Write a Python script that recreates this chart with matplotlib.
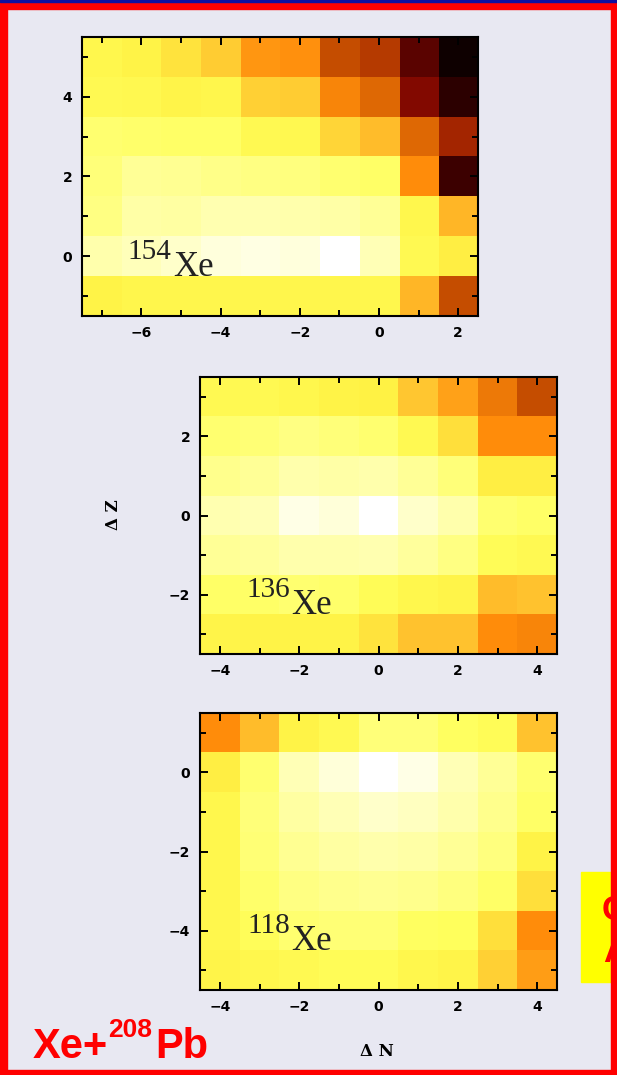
import numpy as np
import matplotlib.pyplot as plt
from matplotlib.colors import LinearSegmentedColormap
from matplotlib.patches import Rectangle
from matplotlib.ticker import MultipleLocator

# relative isotope yields on the (dN, dZ) grid, rows listed from top dZ down
dn_154 = [-7, -6, -5, -4, -3, -2, -1, 0, 1, 2]
dz_154 = [5, 4, 3, 2, 1, 0, -1]
yield_154 = [
    [0.64, 0.61, 0.57, 0.52, 0.42, 0.41, 0.30, 0.27, 0.14, 0.01],
    [0.66, 0.65, 0.62, 0.63, 0.53, 0.52, 0.39, 0.34, 0.19, 0.07],
    [0.74, 0.73, 0.72, 0.72, 0.66, 0.65, 0.54, 0.49, 0.34, 0.24],
    [0.76, 0.82, 0.81, 0.79, 0.78, 0.77, 0.74, 0.72, 0.40, 0.10],
    [0.78, 0.85, 0.84, 0.87, 0.87, 0.86, 0.85, 0.82, 0.64, 0.48],
    [0.86, 0.89, 0.915, 0.945, 0.955, 0.945, 1.00, 0.88, 0.66, 0.59],
    [0.61, 0.63, 0.63, 0.63, 0.63, 0.63, 0.63, 0.64, 0.48, 0.30],
]

dn_136 = [-4, -3, -2, -1, 0, 1, 2, 3, 4]
dz_136 = [3, 2, 1, 0, -1, -2, -3]
yield_136 = [
    [0.66, 0.66, 0.64, 0.61, 0.60, 0.51, 0.44, 0.37, 0.30],
    [0.74, 0.75, 0.78, 0.76, 0.74, 0.66, 0.56, 0.40, 0.40],
    [0.80, 0.82, 0.86, 0.85, 0.86, 0.82, 0.76, 0.59, 0.59],
    [0.87, 0.88, 0.96, 0.94, 1.00, 0.915, 0.86, 0.74, 0.72],
    [0.82, 0.83, 0.86, 0.86, 0.87, 0.83, 0.78, 0.68, 0.66],
    [0.72, 0.72, 0.74, 0.73, 0.68, 0.64, 0.62, 0.49, 0.50],
    [0.62, 0.61, 0.61, 0.61, 0.57, 0.50, 0.50, 0.40, 0.39],
]

dn_118 = [-4, -3, -2, -1, 0, 1, 2, 3, 4]
dz_118 = [1, 0, -1, -2, -3, -4, -5]
yield_118 = [
    [0.40, 0.49, 0.61, 0.66, 0.76, 0.76, 0.71, 0.68, 0.50],
    [0.59, 0.74, 0.88, 0.94, 1.00, 0.96, 0.88, 0.82, 0.74],
    [0.64, 0.76, 0.84, 0.88, 0.915, 0.90, 0.86, 0.80, 0.72],
    [0.64, 0.75, 0.81, 0.84, 0.86, 0.85, 0.82, 0.77, 0.61],
    [0.64, 0.73, 0.78, 0.80, 0.81, 0.80, 0.77, 0.72, 0.56],
    [0.64, 0.69, 0.74, 0.75, 0.75, 0.71, 0.70, 0.56, 0.40],
    [0.62, 0.64, 0.66, 0.68, 0.68, 0.64, 0.62, 0.53, 0.43],
]

masses = ["154", "136", "118"]
label_at = [(-5.2, -0.5), (-2.2, -2.5), (-2.2, -4.5)]

W, H = 617, 1075
plt.rcParams["font.weight"] = "bold"

# black -> dark red -> orange -> yellow -> white
cmap = LinearSegmentedColormap.from_list("yield", [
    (0.00, (0.04, 0.00, 0.00)),
    (0.10, (0.24, 0.00, 0.00)),
    (0.20, (0.55, 0.04, 0.00)),
    (0.30, (0.78, 0.31, 0.00)),
    (0.40, (1.00, 0.55, 0.04)),
    (0.50, (1.00, 0.76, 0.18)),
    (0.60, (1.00, 0.95, 0.27)),
    (0.70, (1.00, 1.00, 0.36)),
    (0.80, (1.00, 1.00, 0.55)),
    (0.90, (1.00, 1.00, 0.75)),
    (1.00, (1.00, 1.00, 1.00)),
])


def box(x0, y0, x1, y1):
    return [x0 / W, 1 - y1 / H, (x1 - x0) / W, (y1 - y0) / H]


fig = plt.figure(figsize=(W / 100, H / 100), dpi=100)
fig.patch.set_facecolor("#e8e8f2")

panels = [
    (box(82, 37, 478, 316), dn_154, dz_154, yield_154),
    (box(200, 377, 557, 654), dn_136, dz_136, yield_136),
    (box(200, 713, 557, 990), dn_118, dz_118, yield_118),
]

for (rect, dn, dz, vals), mass, (lx, ly) in zip(panels, masses, label_at):
    ax = fig.add_axes(rect)
    ax.imshow(np.array(vals), cmap=cmap, vmin=0, vmax=1, origin="upper",
              extent=(dn[0] - 0.5, dn[-1] + 0.5, dz[-1] - 0.5, dz[0] + 0.5),
              aspect="auto", interpolation="nearest")
    for axis in (ax.xaxis, ax.yaxis):
        axis.set_major_locator(MultipleLocator(2))
        axis.set_minor_locator(MultipleLocator(1))
    ax.tick_params(which="both", direction="in", top=True, right=True,
                   width=1.4, labelsize=10, pad=7)
    ax.tick_params(which="major", length=6)
    ax.tick_params(which="minor", length=4)
    for s in ax.spines.values():
        s.set_linewidth(1.5)
    ax.text(lx, ly, "Xe", fontsize=25, family="Liberation Serif",
            weight="normal", color="#222222", ha="left", va="baseline")
    ax.annotate(mass, xy=(lx, ly), xytext=(-1, 12.5), textcoords="offset points",
                fontsize=21, family="Liberation Serif", weight="normal",
                color="#222222", ha="right", va="baseline")

fig.text(113 / W, 1 - 515 / H, "Δ Z", rotation=90, fontsize=12,
         family="DejaVu Serif", ha="center", va="center")
fig.text(377 / W, 1 - 1052 / H, "Δ N", fontsize=12,
         family="DejaVu Serif", ha="center", va="center")

# reaction label
red = "#ff0000"
fig.text(33 / W, 1 - 1058 / H, "Xe+", fontsize=30, family="Liberation Sans",
         color=red, ha="left", va="baseline")
fig.text(108 / W, 1 - 1037 / H, "208", fontsize=19, family="Liberation Sans",
         color=red, ha="left", va="baseline")
fig.text(155 / W, 1 - 1058 / H, "Pb", fontsize=30, family="Liberation Sans",
         color=red, ha="left", va="baseline")

# yellow note box running off the right edge
note = Rectangle((581 / W, 1 - 982 / H), 36 / W, 110 / H,
                 transform=fig.transFigure, color="#ffff00", zorder=1)
fig.patches.append(note)
for ch, x, y in [("C", 602, 920), ("A", 603, 962)]:
    t = fig.text(x / W, 1 - y / H, ch, fontsize=25, family="Liberation Sans",
                 color=red, ha="left", va="baseline", zorder=2)
    t.set_clip_path(note)

# red frame around the slide
for x0, y0, x1, y1 in [(0, 0, 617, 9), (0, 0, 7, 1075), (611, 0, 617, 1075),
                       (0, 1070, 617, 1075)]:
    fig.patches.append(Rectangle((x0 / W, 1 - y1 / H), (x1 - x0) / W, (y1 - y0) / H,
                                 transform=fig.transFigure, color=red, zorder=3))
fig.patches.append(Rectangle((0, 1 - 1.5 / H), 1, 1.5 / H,
                             transform=fig.transFigure, color="#1010a0", zorder=4))

fig.savefig("out.png", dpi=100, facecolor=fig.get_facecolor())
